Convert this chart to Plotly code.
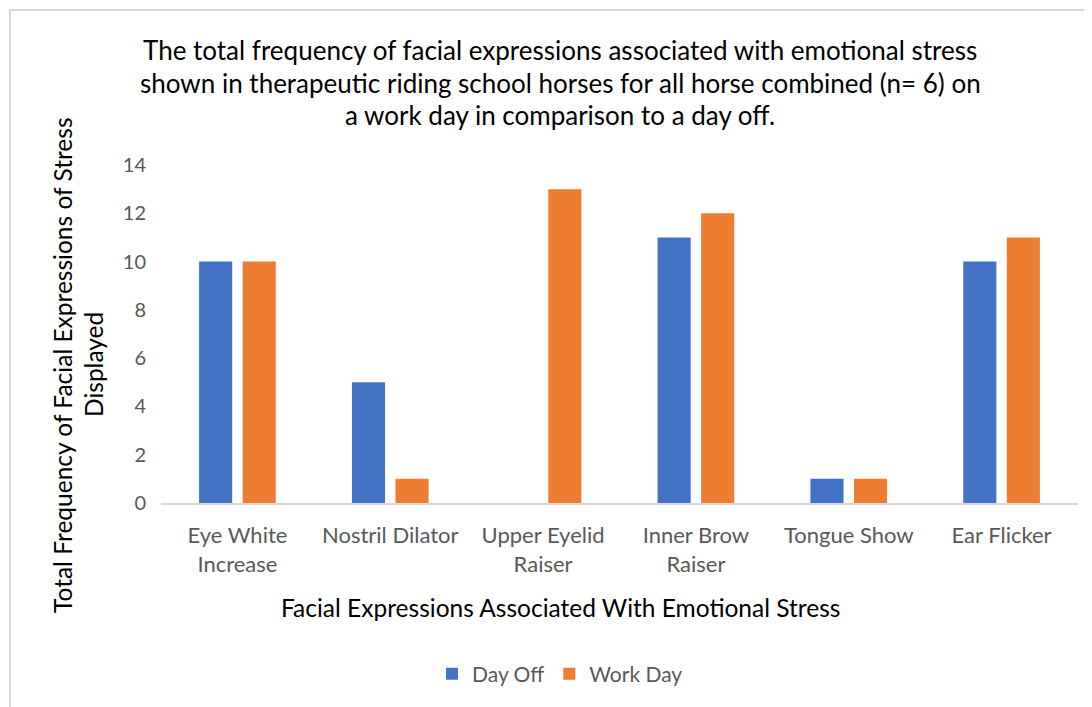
import plotly.graph_objects as go

categories = ["Eye White<br>Increase", "Nostril Dilator", "Upper Eyelid<br>Raiser",
              "Inner Brow<br>Raiser", "Tongue Show", "Ear Flicker"]
day_off = [10, 5, 0, 11, 1, 10]
work_day = [10, 1, 13, 12, 1, 11]
y_ticks = [0, 2, 4, 6, 8, 10, 12, 14]

title_lines = [
    "The total frequency of facial expressions associated with emotional stress",
    "shown in therapeutic riding school horses for all horse combined (n= 6) on",
    "a work day in comparison to a day off.",
]
ytitle_lines = ["Total Frequency of Facial Expressions of Stress", "Displayed"]
xtitle = "Facial Expressions Associated With Emotional Stress"

# page body has an 8px margin; figure is drawn offset by (8, 8)
OFF = 8
W, H = 1092 - OFF, 707 - OFF
L = 161 - OFF
T = 165 - OFF
R = W - (1078 - OFF)
B = H - (503 - OFF)
pw, ph = W - L - R, H - T - B

FONT = "Lato"
GRAY = "#595959"

fig = go.Figure()
fig.add_trace(go.Bar(name="Day Off", x=categories, y=day_off, marker_color="#4472C4",
                     marker_line_width=0))
fig.add_trace(go.Bar(name="Work Day", x=categories, y=work_day, marker_color="#ED7D31",
                     marker_line_width=0))

def px_x(x):
    return (x - OFF - L) / pw

def px_y(y):
    return (H - B - (y - OFF)) / ph

annotations = []
for line, yy in zip(title_lines, [50, 83, 115]):
    annotations.append(dict(text=line, x=px_x(560), y=px_y(yy), xref="paper", yref="paper",
                            xanchor="center", yanchor="middle", showarrow=False,
                            font=dict(family=FONT, size=26, color="#000000")))
for line, xx in zip(ytitle_lines, [62, 93]):
    annotations.append(dict(text=line, x=px_x(xx), y=px_y(365), xref="paper", yref="paper",
                            xanchor="center", yanchor="middle", showarrow=False, textangle=-90,
                            font=dict(family=FONT, size=24.5, color="#000000")))
annotations.append(dict(text=xtitle, x=px_x(560), y=px_y(607), xref="paper", yref="paper",
                        xanchor="center", yanchor="middle", showarrow=False,
                        font=dict(family=FONT, size=24.5, color="#000000")))

fig.update_layout(
    width=W, height=H,
    margin=dict(l=L, r=R, t=T, b=B, autoexpand=False),
    paper_bgcolor="white", plot_bgcolor="white",
    barmode="group", bargap=0.43, bargroupgap=0.24,
    font=dict(family=FONT, color=GRAY, size=21),
    showlegend=True,
    legend=dict(orientation="h", xref="container", yref="container",
                x=(560 - OFF) / W, y=1 - (674 - OFF) / H, xanchor="center", yanchor="middle",
                font=dict(family=FONT, size=21, color=GRAY), itemwidth=30,
                traceorder="normal"),
    annotations=annotations,
    shapes=[dict(type="rect", xref="paper", yref="paper",
                 x0=px_x(10), x1=px_x(1110), y0=px_y(730), y1=px_y(10),
                 line=dict(color="#D9D9D9", width=2), layer="below")],
)
fig.update_xaxes(showgrid=False, showline=True, linecolor="#D9D9D9", linewidth=2,
                 ticks="", ticklabelstandoff=12,
                 tickfont=dict(family=FONT, size=22, color=GRAY), fixedrange=True)
fig.update_yaxes(range=[0, 14], tickvals=y_ticks, showgrid=False, zeroline=False,
                 showline=False, ticks="", ticklabelstandoff=14,
                 tickfont=dict(family=FONT, size=20, color=GRAY), fixedrange=True)

fig.write_html("out.html")
